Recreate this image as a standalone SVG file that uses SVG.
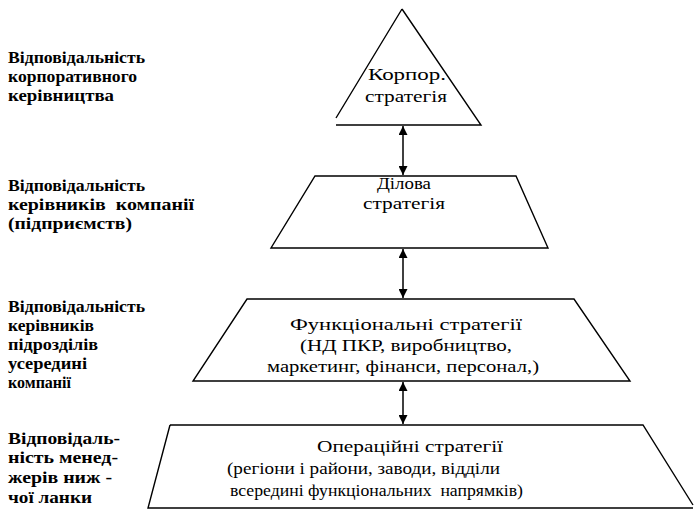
<svg xmlns="http://www.w3.org/2000/svg" width="694" height="512" viewBox="0 0 694 512">
<style>
.shape{fill:#fff;stroke:#000;stroke-width:1.4}
.lbl{font-size:16px;font-weight:bold;fill:#000}
.txt{font-size:17px;fill:#000}
.conn{stroke:#000;stroke-width:1.5;fill:none;marker-start:url(#ah);marker-end:url(#ah)}
</style>
<defs>
<marker id="ah" viewBox="0 0 10 10" refX="10" refY="5" markerWidth="9" markerHeight="9" markerUnits="userSpaceOnUse" orient="auto-start-reverse">
<path d="M0,0 L10,5 L0,10 z" fill="#000"/>
</marker>
</defs>
<rect width="694" height="512" fill="#fff"/>
<g id="labels" font-family="'Liberation Serif', 'DejaVu Serif', 'Times New Roman', serif">
<text class="lbl" x="8" y="63" textLength="137" lengthAdjust="spacingAndGlyphs">Відповідальність</text>
<text class="lbl" x="8" y="82" textLength="129" lengthAdjust="spacingAndGlyphs">корпоративного</text>
<text class="lbl" x="8" y="101" textLength="106" lengthAdjust="spacingAndGlyphs">керівництва</text>
<text class="lbl" x="8" y="191" textLength="137" lengthAdjust="spacingAndGlyphs">Відповідальність</text>
<text class="lbl" x="8" y="210" textLength="186" lengthAdjust="spacingAndGlyphs" xml:space="preserve">керівників  компанії</text>
<text class="lbl" x="8" y="229" textLength="124" lengthAdjust="spacingAndGlyphs">(підприємств)</text>
<text class="lbl" x="8" y="312" textLength="137" lengthAdjust="spacingAndGlyphs">Відповідальність</text>
<text class="lbl" x="8" y="331" textLength="86" lengthAdjust="spacingAndGlyphs">керівників</text>
<text class="lbl" x="8" y="350" textLength="90" lengthAdjust="spacingAndGlyphs">підрозділів</text>
<text class="lbl" x="8" y="369" textLength="79" lengthAdjust="spacingAndGlyphs">усередині</text>
<text class="lbl" x="8" y="388" textLength="63" lengthAdjust="spacingAndGlyphs">компанії</text>
<text class="lbl" x="8" y="444" textLength="112" lengthAdjust="spacingAndGlyphs">Відповідаль-</text>
<text class="lbl" x="8" y="463" textLength="110" lengthAdjust="spacingAndGlyphs">ність менед-</text>
<text class="lbl" x="8" y="483" textLength="104" lengthAdjust="spacingAndGlyphs">жерів ниж -</text>
<text class="lbl" x="8" y="503" textLength="84" lengthAdjust="spacingAndGlyphs">чої ланки</text>
</g>
<g font-family="'Liberation Serif', 'DejaVu Serif', 'Times New Roman', serif">
<g id="corporate">
<path class="shape" d="M402,9 L336,118 M402,9 L481,125 L336,125"/>
<text class="txt" text-anchor="middle" x="407" y="80" textLength="78" lengthAdjust="spacingAndGlyphs">Корпор.</text>
<text class="txt" text-anchor="middle" x="406" y="102" textLength="82" lengthAdjust="spacingAndGlyphs">стратегія</text>
</g>
<g id="business">
<path class="shape" d="M315,176 L516,176 L548,248 L271,248 Z"/>
<text class="txt" text-anchor="middle" x="404" y="189" textLength="54" lengthAdjust="spacingAndGlyphs">Ділова</text>
<text class="txt" text-anchor="middle" x="404" y="209" textLength="82" lengthAdjust="spacingAndGlyphs">стратегія</text>
</g>
<g id="functional">
<path class="shape" d="M247,299 L574,299 L630,381 L193,381 Z"/>
<text class="txt" text-anchor="middle" x="406" y="330" textLength="232" lengthAdjust="spacingAndGlyphs">Функціональні стратегії</text>
<text class="txt" text-anchor="middle" x="406" y="351" textLength="212" lengthAdjust="spacingAndGlyphs">(НД ПКР, виробництво,</text>
<text class="txt" text-anchor="middle" x="403" y="372" textLength="272" lengthAdjust="spacingAndGlyphs">маркетинг, фінанси, персонал,)</text>
</g>
<g id="operational">
<path class="shape" d="M170,425 L643,425 L693,505 M693,508 L148,508 L170,425"/>
<text class="txt" text-anchor="middle" x="410" y="452" textLength="186" lengthAdjust="spacingAndGlyphs">Операційні стратегії</text>
<text class="txt" x="227" y="474" textLength="273" lengthAdjust="spacingAndGlyphs">(регіони і райони, заводи, відділи</text>
<text class="txt" x="230" y="496" textLength="293" lengthAdjust="spacingAndGlyphs" xml:space="preserve">всередині функціональних  напрямків)</text>
</g>
</g>
<g id="connectors">
<line class="conn" x1="403" y1="126" x2="403" y2="175"/>
<line class="conn" x1="403" y1="249" x2="403" y2="298"/>
<line class="conn" x1="403" y1="382" x2="403" y2="424"/>
</g>
</svg>
